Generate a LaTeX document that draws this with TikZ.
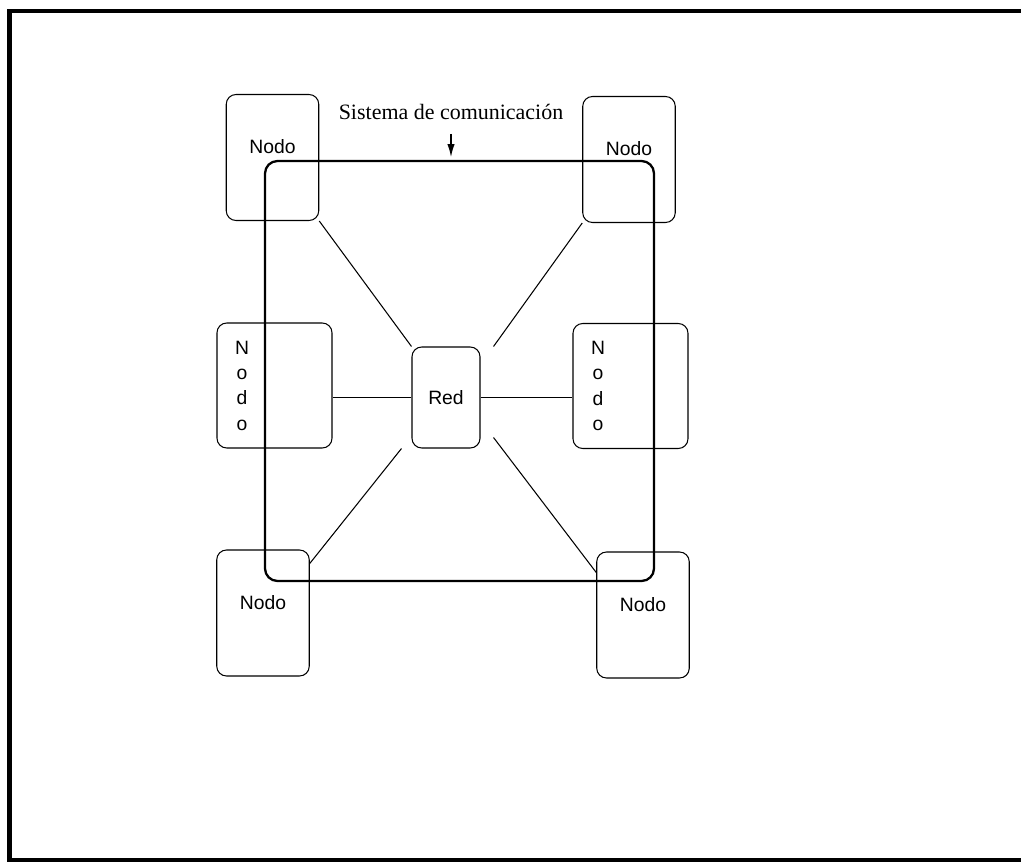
\documentclass[tikz,border=0pt]{standalone}
\usepackage{fontspec}
\setmainfont{Liberation Serif}
\setsansfont{Liberation Sans}
\usetikzlibrary{positioning,calc,arrows.meta}

\tikzset{
  caja/.style={draw, rounded corners=5.5pt, line width=0.6pt, inner sep=0pt},
  nodo/.style={caja, minimum width=1.85cm, minimum height=2.52cm},
  nodoancho/.style={caja, minimum width=2.3cm, minimum height=2.5cm},
  txtnodo/.style={font=\sffamily\fontsize{11}{13}\selectfont, yshift=6.2pt},
  txtvert/.style={font=\sffamily\fontsize{11}{14.4}\selectfont, align=center, xshift=-0.65cm},
  enlace/.style={line width=0.6pt},
}

\begin{document}
\begin{tikzpicture}[x=0.02cm, y=-0.02cm]
        \useasboundingbox (0,0) rectangle (1021,865);
        % marco de la hoja
        \draw[line width=2.6pt] (1021,11) -- (9.5,11) -- (9.5,860) -- (1021,860);

        % sistema de comunicacion
        \node[draw, line width=1.3pt, rounded corners=7pt, minimum width=7.78cm, minimum height=8.4cm] (sis) at (459.5,371) {};
        \node[font=\fontsize{12.5}{14}\selectfont] (titulo) at (451,112) {Sistema de comunicación};
        \draw[line width=0.9pt, -{Latex[length=7.5pt,width=4.2pt]}, shorten <=4.5pt, shorten >=1.5pt] (titulo.south) -- (titulo.south |- sis.north);

        % nodos
        \node[nodo, label={[txtnodo]center:Nodo}] (tl) at (272.5,157.5) {};
        \node[nodo, label={[txtnodo]center:Nodo}] (tr) at (629,159.5) {};
        \node[nodoancho, label={[txtvert]center:N\\o\\d\\o}] (ml) at (274.5,385.5) {};
        \node[nodoancho, label={[txtvert]center:N\\o\\d\\o}] (mr) at (630.5,386) {};
        \node[nodo, label={[txtnodo]center:Nodo}] (bl) at (263,613) {};
        \node[nodo, label={[txtnodo]center:Nodo}] (br) at (643,615) {};

        % red
        \node[caja, minimum width=1.36cm, minimum height=2.02cm, font=\sffamily\fontsize{11}{13}\selectfont] (red) at (446,397.5) {Red};

        % enlaces
        \draw[enlace] (tl.south east) -- (red.north west);
        \draw[enlace] (tr.south west) -- ($(red.north east)+(13,0)$);
        \draw[enlace] ($(red.south west)+(-10,0)$) -- ($(bl.north east)+(0,14)$);
        \draw[enlace] ($(red.south east)+(13,-11)$) -- ($(br.north west)+(0,21)$);
        \draw[enlace] (red.west) -- (red.west -| ml.east);
        \draw[enlace] (red.east) -- (red.east -| mr.west);
\end{tikzpicture}
\end{document}
